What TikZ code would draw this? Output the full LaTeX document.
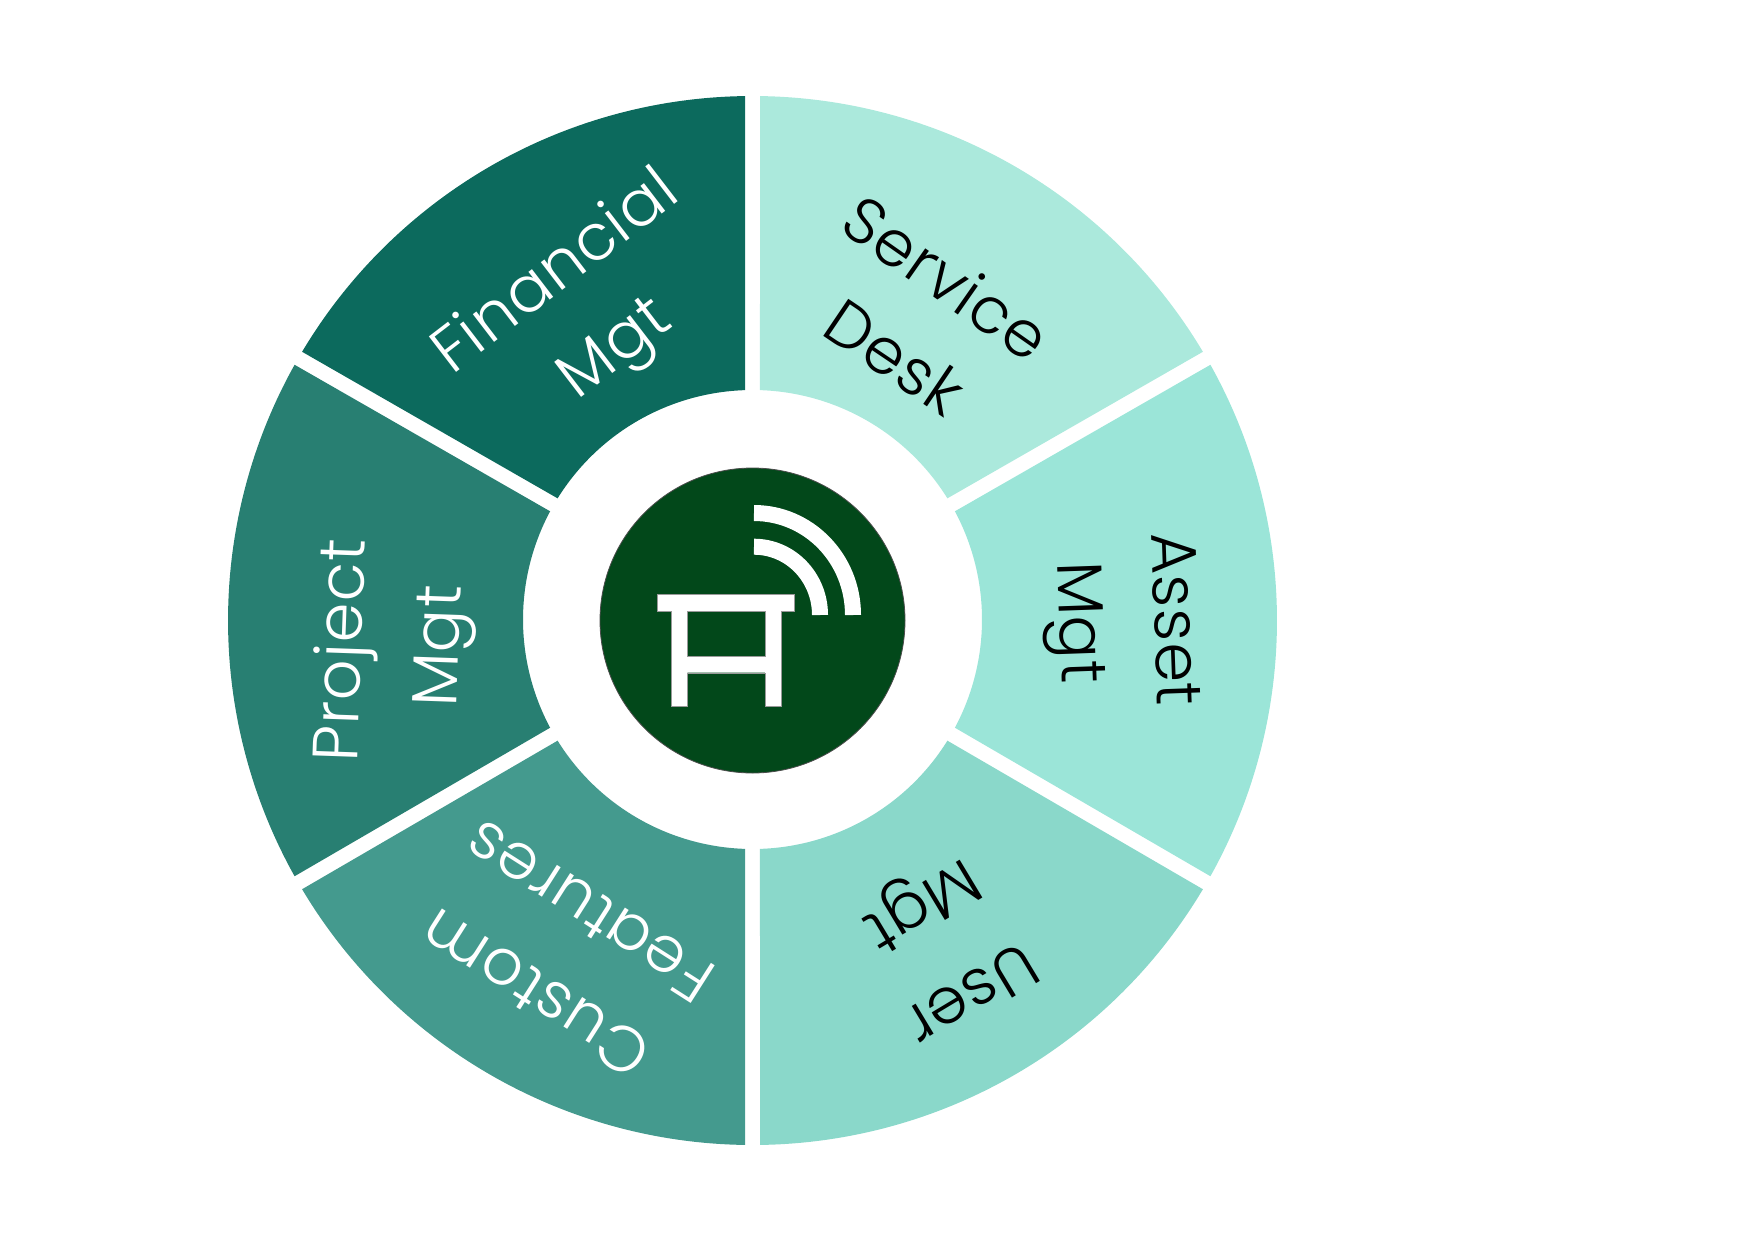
\documentclass[tikz,border=0pt]{standalone}
\usepackage{fontspec}
\setmainfont{Poppins Light}[LetterSpace=1.5]
\usetikzlibrary{positioning}
\definecolor{deskfill}{HTML}{ABE9DC}
\definecolor{assetfill}{HTML}{9BE5D8}
\definecolor{userfill}{HTML}{8AD8CA}
\definecolor{customfill}{HTML}{449A8E}
\definecolor{projectfill}{HTML}{287F72}
\definecolor{financefill}{HTML}{0C6A5D}
\definecolor{hubfill}{HTML}{02481A}
\tikzset{
	wedgelabel/.style={anchor=base, inner sep=0pt, font=\fontsize{64}{64}\selectfont},
	hubdisc/.style={circle, fill=hubfill, draw=black!70, line width=0.8pt, minimum size=305pt, inner sep=0pt},
	iconpart/.style={fill=white, draw=black!40, line width=0.4pt},
	iconarc/.style={draw=white, line width=16pt}
}
\begin{document}
\begin{tikzpicture}[x=1pt,y=1pt]
	\useasboundingbox (0,0) rectangle (1748,-1240);
	\coordinate (hubc) at (752.5,-620.5);

	% six sectors, gap kept parallel
	\foreach \from/\col in {30/deskfill,-30/assetfill,-90/userfill,-150/customfill,150/projectfill,90/financefill}
		\fill[\col,shift={(hubc)}] (\from+0.82:524.5) arc[start angle=\from+0.82, end angle=\from+59.18, radius=524.5]
			-- ([shift={(0,1)}]\from+58.13:229.5) arc[start angle=\from+58.13, end angle=\from+1.87, radius=229.5] -- cycle;

	\node[wedgelabel, rotate=-35] (service) at (933,-297) {Service};
	\node[wedgelabel, rotate=-34] (desk) at (882,-376) {Desk};
	\node[wedgelabel, rotate=-88] (asset) at (1154.5,-620) {Asset};
	\node[wedgelabel, rotate=-88] (assetmgt) at (1060,-623) {Mgt};
	\node[wedgelabel, rotate=211] (user) at (961,-977) {User};
	\node[wedgelabel, rotate=211] (usermgt) at (912,-889) {Mgt};
	\node[wedgelabel, rotate=147.5, white] (custom) at (547,-975) {Custom};
	\node[wedgelabel, rotate=147.5, white] (features) at (601,-893) {Features};
	\node[wedgelabel, rotate=88, white] (project) at (361.5,-651) {Project};
	\node[wedgelabel, rotate=88, white] (projmgt) at (459,-647) {Mgt};
	\node[wedgelabel, rotate=37.5, white] (financial) at (567,-287) {Financial};
	\node[wedgelabel, rotate=37.5, white] (finmgt) at (626,-363) {Mgt};

	\node[hubdisc] (hub) at (hubc) {};

	% desk icon
	\path[iconpart] (657.5,-594) -- (794,-594) -- (794,-611) -- (781.5,-611) -- (781.5,-706) -- (765,-706) -- (765,-672.7)
		-- (687.3,-672.7) -- (687.3,-706) -- (671,-706) -- (671,-611) -- (657.5,-611) -- cycle
		(687.3,-611) -- (687.3,-656.3) -- (765,-656.3) -- (765,-611) -- cycle;
	\draw[iconarc] (754,-546.7) arc[start angle=90, end angle=0, x radius=66, y radius=68.3];
	\draw[iconarc] (754,-513) arc[start angle=90, end angle=0, x radius=99, y radius=102];
\end{tikzpicture}
\end{document}
